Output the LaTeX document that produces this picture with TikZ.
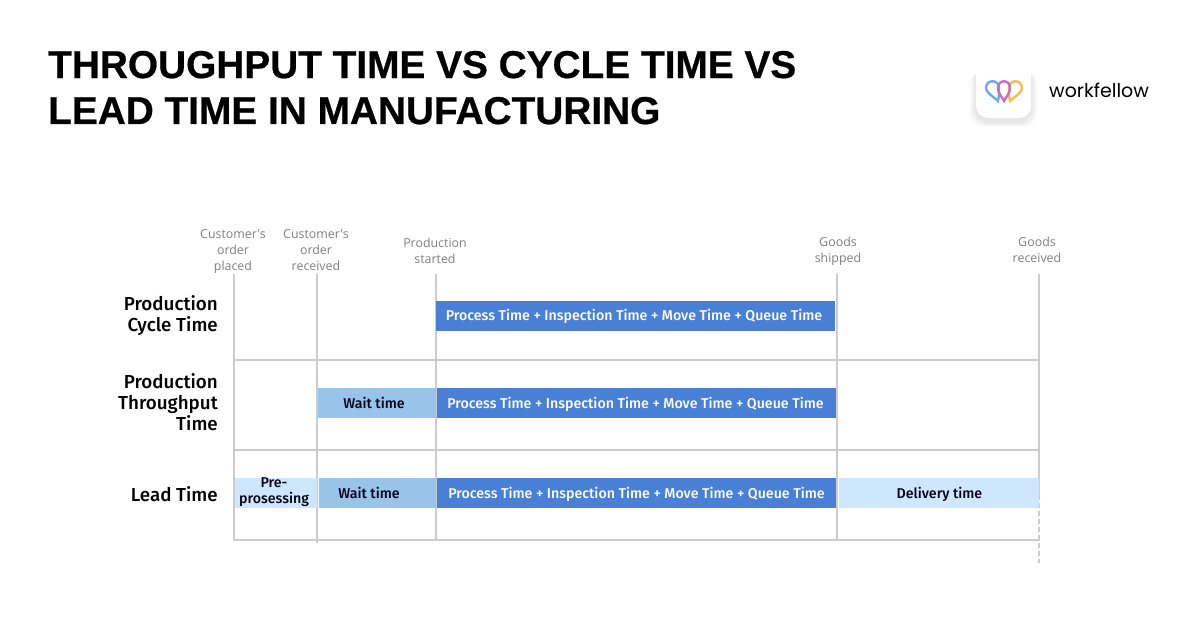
\documentclass[tikz,border=0pt]{standalone}
\usepackage{fontspec}
\setmainfont[BoldFont={Fira Sans Medium}]{Fira Sans}
\newfontfamily\titlefont[BoldFeatures={FakeBold=0.6}]{Liberation Sans}
\newfontfamily\topfont{Open Sans}
\newfontfamily\logofont{Poppins}
\usetikzlibrary{calc, shapes, positioning}
\definecolor{gridgray}{HTML}{CCCCCC}
\definecolor{barblue}{HTML}{4A7FD6}
\definecolor{waitblue}{HTML}{97C4E8}
\definecolor{paleblue}{HTML}{CFE7FC}
\definecolor{toptext}{HTML}{808080}
\tikzset{
	gridline/.style={draw=gridgray, line width=2pt},
	timebar/.style={shape=rectangle, minimum height=30pt, inner sep=0pt, text height=11pt, text depth=1pt, font=\fontsize{14.2}{15}\selectfont\bfseries, text=black!90!blue},
	processbar/.style={timebar, minimum width=399pt, fill=barblue, text=white},
	rowlabel/.style={anchor=east, align=right, inner sep=0pt, font=\fontsize{18.8}{21}\selectfont\bfseries, text=black},
	toplabel/.style={align=center, font=\fontsize{12.4}{16}\selectfont\topfont, text=toptext}
}
\begin{document}
\begin{tikzpicture}[x=1pt, y=-1pt]
\useasboundingbox (0,0) rectangle (1200,626);
\node[anchor=base west, inner sep=0pt, font=\fontsize{38.8}{46}\selectfont\titlefont\bfseries] (title1) at (48,78) {THROUGHPUT TIME VS CYCLE TIME VS};
\node[anchor=base west, inner sep=0pt, font=\fontsize{38.8}{46}\selectfont\titlefont\bfseries] (title2) at (48,124) {LEAD TIME IN MANUFACTURING};
% logo
\foreach \i in {1,...,8}{
	\fill[black, opacity=0.012, rounded corners=14pt] (976-\i*0.8,66+\i*0.6) rectangle (1031+\i*0.8,122+\i*0.6);
}
\fill[white, rounded corners=12pt] (976,63) rectangle (1031,118);
\foreach \x/\w/\p/\a/\b/\c in {992.5/6.5/998/4/1/6FA8E8, 1015.5/6.5/1010/1/4/F2BE50, 1004/6/1004/2/2/C66FC8}{
	\definecolor{loopcolor}{HTML}{\c}
	\draw[loopcolor, line width=2.4pt] (\p,101) .. controls (\p-\a,97) and (\x-\w,93) .. (\x-\w,88) .. controls (\x-\w,79) and (\x+\w,79) .. (\x+\w,88) .. controls (\x+\w,93) and (\p+\b,97) .. (\p,101) -- cycle;
}
\node[anchor=base west, inner sep=0pt, font=\fontsize{19}{20}\selectfont\logofont] (brand) at (1049,97) {workfellow};
% grid
\coordinate (top1) at (234,274);
\coordinate (bot1) at (234,541);
\coordinate (top2) at (317,274);
\coordinate (bot2) at (317,543);
\coordinate (top3) at (436,274);
\coordinate (bot3) at (436,541);
\coordinate (top4) at (837,274);
\coordinate (bot4) at (837,541);
\coordinate (top5) at (1039,274);
\coordinate (mid5) at (1039,495);
\coordinate (bot5) at (1039,563);
\draw[gridline] (top1) -- (bot1);
\draw[gridline] (top2) -- (bot2);
\draw[gridline] (top3) -- (bot3);
\draw[gridline] (top4) -- (bot4);
\draw[gridline] (top5) -- (mid5);
\draw[gridline, line width=1.5pt, dash pattern=on 5pt off 3pt] (mid5) -- (bot5);
\foreach \y in {360,450,540}{
	\draw[gridline] (233,\y) -- (1040,\y);
}
% top labels
\node[toplabel] (placed) at (233,251) {Customer's\\order\\placed};
\node[toplabel] (received) at (316,250) {Customer's\\order\\received};
\node[toplabel] (started) at (435,250.5) {Production\\started};
\node[toplabel] (shipped) at (838,251) {Goods\\shipped};
\node[toplabel] (goods) at (1037,250) {Goods\\received};
% rows
\node[rowlabel] (cycle) at (218,315.5) {Production\\Cycle Time};
\node[rowlabel] (through) at (218,402) {Production\\Throughput\\Time};
\node[rowlabel] (lead) at (218,494) {Lead Time};
\node[processbar] (p1) at (635.5,315.5) {\hspace*{-3pt}Process Time + Inspection Time + Move Time + Queue Time};
\node[timebar, minimum width=118pt, fill=waitblue] (w2) at (377,403) {\hspace*{-6pt}Wait time};
\node[processbar] (p2) at (636.5,403) {\hspace*{-2pt}Process Time + Inspection Time + Move Time + Queue Time};
\node[timebar, minimum width=82pt, fill=paleblue, text height=, text depth=, font=\fontsize{14.2}{14.5}\selectfont\bfseries] (pre) at (276,493) {\hspace*{-4pt}\raisebox{-3.5pt}[14pt][14pt]{\begin{tabular}{@{}c@{}}Pre-\\prosessing\end{tabular}}};
\node[timebar, minimum width=117pt, fill=waitblue] (w3) at (377.5,493) {\hspace*{-17pt}Wait time};
\node[processbar] (p3) at (636.5,493) {Process Time + Inspection Time + Move Time + Queue Time};
\node[timebar, minimum width=200pt, fill=paleblue] (deliv) at (938.5,493) {\hspace*{2pt}Delivery time};
\end{tikzpicture}
\end{document}
